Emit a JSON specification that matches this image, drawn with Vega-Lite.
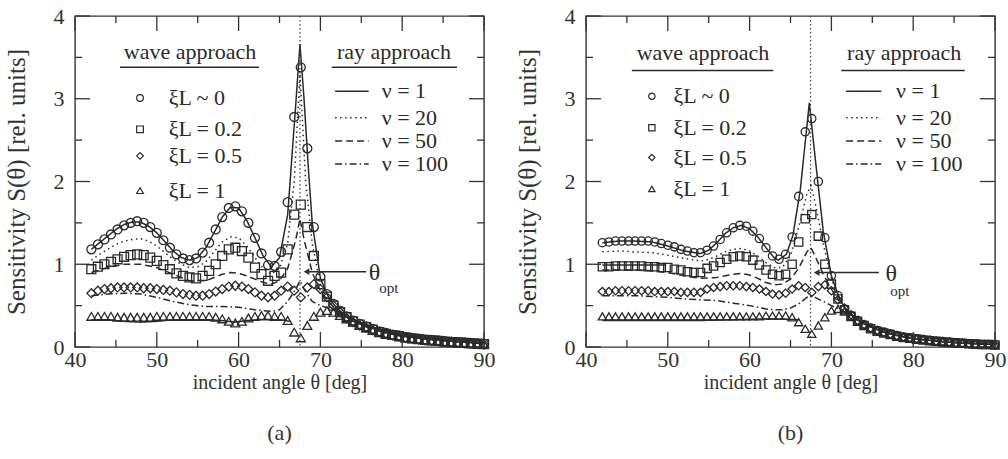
{
"$schema": "https://vega.github.io/schema/vega-lite/v6.json",
"background": "white",
"padding": {"left": 3, "top": 4, "right": 4, "bottom": 4},
"spacing": 18,
"config": {
 "font": "Liberation Serif",
 "view": {"stroke": "#333", "strokeWidth": 1.4},
 "axis": {"domain": false, "grid": false, "ticks": false, "labelFont": "Liberation Serif", "labelFontSize": 22, "labelColor": "#333", "titleFont": "Liberation Serif", "titleFontWeight": "normal", "titleColor": "#333", "labelFlush": false, "labelOverlap": false},
 "title": {"font": "Liberation Serif", "fontSize": 22, "fontWeight": "normal", "color": "#333"}
},
"datasets": {
 "pa": [
  {"k":"c","x":42,"y":1.18},{"k":"c","x":42.8,"y":1.24},{"k":"c","x":43.6,"y":1.3},{"k":"c","x":44.4,"y":1.36},{"k":"c","x":45.2,"y":1.42},{"k":"c","x":46,"y":1.47},{"k":"c","x":46.8,"y":1.5},{"k":"c","x":47.6,"y":1.52},{"k":"c","x":48.4,"y":1.5},{"k":"c","x":49.2,"y":1.45},{"k":"c","x":50,"y":1.38},{"k":"c","x":50.8,"y":1.29},{"k":"c","x":51.6,"y":1.2},{"k":"c","x":52.4,"y":1.12},{"k":"c","x":53.2,"y":1.07},{"k":"c","x":54,"y":1.05},{"k":"c","x":54.8,"y":1.07},{"k":"c","x":55.6,"y":1.14},{"k":"c","x":56.4,"y":1.26},{"k":"c","x":57.2,"y":1.42},{"k":"c","x":58,"y":1.57},{"k":"c","x":58.8,"y":1.68},{"k":"c","x":59.6,"y":1.7},{"k":"c","x":60.4,"y":1.64},{"k":"c","x":61.2,"y":1.5},{"k":"c","x":62,"y":1.32},{"k":"c","x":62.8,"y":1.13},{"k":"c","x":63.6,"y":0.99},{"k":"c","x":64.4,"y":0.98},{"k":"c","x":65.2,"y":1.15},{"k":"c","x":66,"y":1.75},{"k":"c","x":66.8,"y":2.78},{"k":"c","x":67.6,"y":3.38},{"k":"c","x":68.4,"y":2.4},{"k":"c","x":69.2,"y":1.45},{"k":"c","x":70,"y":0.85},{"k":"c","x":70.8,"y":0.64},{"k":"c","x":71.6,"y":0.52},{"k":"c","x":72.4,"y":0.44},{"k":"c","x":73.2,"y":0.37},{"k":"c","x":74,"y":0.32},{"k":"c","x":74.8,"y":0.28},{"k":"c","x":75.6,"y":0.25},{"k":"c","x":76.4,"y":0.22},{"k":"c","x":77.2,"y":0.19},{"k":"c","x":78,"y":0.17},{"k":"c","x":78.8,"y":0.15},{"k":"c","x":79.6,"y":0.14},{"k":"c","x":80.4,"y":0.12},{"k":"c","x":81.2,"y":0.11},{"k":"c","x":82,"y":0.1},{"k":"c","x":82.8,"y":0.09},{"k":"c","x":83.6,"y":0.085},{"k":"c","x":84.4,"y":0.08},{"k":"c","x":85.2,"y":0.07},{"k":"c","x":86,"y":0.065},{"k":"c","x":86.8,"y":0.06},{"k":"c","x":87.6,"y":0.055},{"k":"c","x":88.4,"y":0.05},{"k":"c","x":89.2,"y":0.045},{"k":"c","x":90,"y":0.04},
  {"k":"s","x":42,"y":0.94},{"k":"s","x":42.8,"y":0.97},{"k":"s","x":43.6,"y":1.0},{"k":"s","x":44.4,"y":1.03},{"k":"s","x":45.2,"y":1.06},{"k":"s","x":46,"y":1.09},{"k":"s","x":46.8,"y":1.11},{"k":"s","x":47.6,"y":1.12},{"k":"s","x":48.4,"y":1.11},{"k":"s","x":49.2,"y":1.08},{"k":"s","x":50,"y":1.04},{"k":"s","x":50.8,"y":0.99},{"k":"s","x":51.6,"y":0.94},{"k":"s","x":52.4,"y":0.89},{"k":"s","x":53.2,"y":0.86},{"k":"s","x":54,"y":0.84},{"k":"s","x":54.8,"y":0.83},{"k":"s","x":55.6,"y":0.86},{"k":"s","x":56.4,"y":0.92},{"k":"s","x":57.2,"y":1.0},{"k":"s","x":58,"y":1.1},{"k":"s","x":58.8,"y":1.18},{"k":"s","x":59.6,"y":1.2},{"k":"s","x":60.4,"y":1.16},{"k":"s","x":61.2,"y":1.08},{"k":"s","x":62,"y":0.96},{"k":"s","x":62.8,"y":0.88},{"k":"s","x":63.6,"y":0.8},{"k":"s","x":64.4,"y":0.86},{"k":"s","x":65.2,"y":0.9},{"k":"s","x":66,"y":1.18},{"k":"s","x":66.8,"y":1.6},{"k":"s","x":67.6,"y":1.72},{"k":"s","x":68.4,"y":1.45},{"k":"s","x":69.2,"y":1.1},{"k":"s","x":70,"y":0.76},{"k":"s","x":70.8,"y":0.61},{"k":"s","x":71.6,"y":0.5},{"k":"s","x":72.4,"y":0.42},{"k":"s","x":73.2,"y":0.36},{"k":"s","x":74,"y":0.31},{"k":"s","x":74.8,"y":0.27},{"k":"s","x":75.6,"y":0.24},{"k":"s","x":76.4,"y":0.21},{"k":"s","x":77.2,"y":0.18},{"k":"s","x":78,"y":0.16},{"k":"s","x":78.8,"y":0.145},{"k":"s","x":79.6,"y":0.13},{"k":"s","x":80.4,"y":0.115},{"k":"s","x":81.2,"y":0.105},{"k":"s","x":82,"y":0.095},{"k":"s","x":82.8,"y":0.085},{"k":"s","x":83.6,"y":0.08},{"k":"s","x":84.4,"y":0.075},{"k":"s","x":85.2,"y":0.065},{"k":"s","x":86,"y":0.06},{"k":"s","x":86.8,"y":0.055},{"k":"s","x":87.6,"y":0.05},{"k":"s","x":88.4,"y":0.045},{"k":"s","x":89.2,"y":0.04},{"k":"s","x":90,"y":0.035},
  {"k":"d","x":42,"y":0.65},{"k":"d","x":42.8,"y":0.68},{"k":"d","x":43.6,"y":0.7},{"k":"d","x":44.4,"y":0.71},{"k":"d","x":45.2,"y":0.72},{"k":"d","x":46,"y":0.72},{"k":"d","x":46.8,"y":0.72},{"k":"d","x":47.6,"y":0.72},{"k":"d","x":48.4,"y":0.71},{"k":"d","x":49.2,"y":0.71},{"k":"d","x":50,"y":0.7},{"k":"d","x":50.8,"y":0.69},{"k":"d","x":51.6,"y":0.68},{"k":"d","x":52.4,"y":0.66},{"k":"d","x":53.2,"y":0.64},{"k":"d","x":54,"y":0.63},{"k":"d","x":54.8,"y":0.62},{"k":"d","x":55.6,"y":0.62},{"k":"d","x":56.4,"y":0.64},{"k":"d","x":57.2,"y":0.67},{"k":"d","x":58,"y":0.7},{"k":"d","x":58.8,"y":0.73},{"k":"d","x":59.6,"y":0.74},{"k":"d","x":60.4,"y":0.73},{"k":"d","x":61.2,"y":0.7},{"k":"d","x":62,"y":0.66},{"k":"d","x":62.8,"y":0.62},{"k":"d","x":63.6,"y":0.6},{"k":"d","x":64.4,"y":0.62},{"k":"d","x":65.2,"y":0.68},{"k":"d","x":66,"y":0.73},{"k":"d","x":66.8,"y":0.68},{"k":"d","x":67.6,"y":0.6},{"k":"d","x":68.4,"y":0.72},{"k":"d","x":69.2,"y":0.76},{"k":"d","x":70,"y":0.7},{"k":"d","x":70.8,"y":0.6},{"k":"d","x":71.6,"y":0.5},{"k":"d","x":72.4,"y":0.42},{"k":"d","x":73.2,"y":0.35},{"k":"d","x":74,"y":0.3},{"k":"d","x":74.8,"y":0.26},{"k":"d","x":75.6,"y":0.23},{"k":"d","x":76.4,"y":0.2},{"k":"d","x":77.2,"y":0.18},{"k":"d","x":78,"y":0.16},{"k":"d","x":78.8,"y":0.14},{"k":"d","x":79.6,"y":0.125},{"k":"d","x":80.4,"y":0.11},{"k":"d","x":81.2,"y":0.1},{"k":"d","x":82,"y":0.09},{"k":"d","x":82.8,"y":0.08},{"k":"d","x":83.6,"y":0.075},{"k":"d","x":84.4,"y":0.07},{"k":"d","x":85.2,"y":0.06},{"k":"d","x":86,"y":0.055},{"k":"d","x":86.8,"y":0.05},{"k":"d","x":87.6,"y":0.045},{"k":"d","x":88.4,"y":0.04},{"k":"d","x":89.2,"y":0.035},{"k":"d","x":90,"y":0.03},
  {"k":"t","x":42,"y":0.37},{"k":"t","x":42.8,"y":0.37},{"k":"t","x":43.6,"y":0.37},{"k":"t","x":44.4,"y":0.37},{"k":"t","x":45.2,"y":0.36},{"k":"t","x":46,"y":0.36},{"k":"t","x":46.8,"y":0.36},{"k":"t","x":47.6,"y":0.36},{"k":"t","x":48.4,"y":0.36},{"k":"t","x":49.2,"y":0.36},{"k":"t","x":50,"y":0.37},{"k":"t","x":50.8,"y":0.37},{"k":"t","x":51.6,"y":0.37},{"k":"t","x":52.4,"y":0.37},{"k":"t","x":53.2,"y":0.37},{"k":"t","x":54,"y":0.37},{"k":"t","x":54.8,"y":0.37},{"k":"t","x":55.6,"y":0.37},{"k":"t","x":56.4,"y":0.37},{"k":"t","x":57.2,"y":0.36},{"k":"t","x":58,"y":0.34},{"k":"t","x":58.8,"y":0.31},{"k":"t","x":59.6,"y":0.29},{"k":"t","x":60.4,"y":0.31},{"k":"t","x":61.2,"y":0.35},{"k":"t","x":62,"y":0.37},{"k":"t","x":62.8,"y":0.38},{"k":"t","x":63.6,"y":0.38},{"k":"t","x":64.4,"y":0.37},{"k":"t","x":65.2,"y":0.37},{"k":"t","x":66,"y":0.32},{"k":"t","x":66.8,"y":0.18},{"k":"t","x":67.6,"y":0.11},{"k":"t","x":68.4,"y":0.26},{"k":"t","x":69.2,"y":0.37},{"k":"t","x":70,"y":0.42},{"k":"t","x":70.8,"y":0.44},{"k":"t","x":71.6,"y":0.42},{"k":"t","x":72.4,"y":0.38},{"k":"t","x":73.2,"y":0.34},{"k":"t","x":74,"y":0.3},{"k":"t","x":74.8,"y":0.26},{"k":"t","x":75.6,"y":0.23},{"k":"t","x":76.4,"y":0.2},{"k":"t","x":77.2,"y":0.18},{"k":"t","x":78,"y":0.16},{"k":"t","x":78.8,"y":0.14},{"k":"t","x":79.6,"y":0.125},{"k":"t","x":80.4,"y":0.11},{"k":"t","x":81.2,"y":0.1},{"k":"t","x":82,"y":0.09},{"k":"t","x":82.8,"y":0.08},{"k":"t","x":83.6,"y":0.075},{"k":"t","x":84.4,"y":0.07},{"k":"t","x":85.2,"y":0.06},{"k":"t","x":86,"y":0.055},{"k":"t","x":86.8,"y":0.05},{"k":"t","x":87.6,"y":0.045},{"k":"t","x":88.4,"y":0.04},{"k":"t","x":89.2,"y":0.035},{"k":"t","x":90,"y":0.03}
 ],
 "pb": [
  {"k":"c","x":42,"y":1.26},{"k":"c","x":42.8,"y":1.27},{"k":"c","x":43.6,"y":1.28},{"k":"c","x":44.4,"y":1.28},{"k":"c","x":45.2,"y":1.28},{"k":"c","x":46,"y":1.28},{"k":"c","x":46.8,"y":1.28},{"k":"c","x":47.6,"y":1.28},{"k":"c","x":48.4,"y":1.27},{"k":"c","x":49.2,"y":1.25},{"k":"c","x":50,"y":1.23},{"k":"c","x":50.8,"y":1.21},{"k":"c","x":51.6,"y":1.18},{"k":"c","x":52.4,"y":1.16},{"k":"c","x":53.2,"y":1.14},{"k":"c","x":54,"y":1.14},{"k":"c","x":54.8,"y":1.17},{"k":"c","x":55.6,"y":1.22},{"k":"c","x":56.4,"y":1.3},{"k":"c","x":57.2,"y":1.38},{"k":"c","x":58,"y":1.44},{"k":"c","x":58.8,"y":1.47},{"k":"c","x":59.6,"y":1.46},{"k":"c","x":60.4,"y":1.4},{"k":"c","x":61.2,"y":1.31},{"k":"c","x":62,"y":1.2},{"k":"c","x":62.8,"y":1.1},{"k":"c","x":63.6,"y":1.06},{"k":"c","x":64.4,"y":1.12},{"k":"c","x":65.2,"y":1.33},{"k":"c","x":66,"y":1.82},{"k":"c","x":66.8,"y":2.6},{"k":"c","x":67.6,"y":2.76},{"k":"c","x":68.4,"y":2.0},{"k":"c","x":69.2,"y":1.32},{"k":"c","x":70,"y":0.86},{"k":"c","x":70.8,"y":0.62},{"k":"c","x":71.6,"y":0.46},{"k":"c","x":72.4,"y":0.38},{"k":"c","x":73.2,"y":0.32},{"k":"c","x":74,"y":0.27},{"k":"c","x":74.8,"y":0.23},{"k":"c","x":75.6,"y":0.2},{"k":"c","x":76.4,"y":0.18},{"k":"c","x":77.2,"y":0.16},{"k":"c","x":78,"y":0.14},{"k":"c","x":78.8,"y":0.12},{"k":"c","x":79.6,"y":0.11},{"k":"c","x":80.4,"y":0.1},{"k":"c","x":81.2,"y":0.09},{"k":"c","x":82,"y":0.08},{"k":"c","x":82.8,"y":0.07},{"k":"c","x":83.6,"y":0.065},{"k":"c","x":84.4,"y":0.06},{"k":"c","x":85.2,"y":0.05},{"k":"c","x":86,"y":0.045},{"k":"c","x":86.8,"y":0.04},{"k":"c","x":87.6,"y":0.035},{"k":"c","x":88.4,"y":0.03},{"k":"c","x":89.2,"y":0.03},{"k":"c","x":90,"y":0.03},
  {"k":"s","x":42,"y":0.97},{"k":"s","x":42.8,"y":0.97},{"k":"s","x":43.6,"y":0.98},{"k":"s","x":44.4,"y":0.98},{"k":"s","x":45.2,"y":0.98},{"k":"s","x":46,"y":0.98},{"k":"s","x":46.8,"y":0.98},{"k":"s","x":47.6,"y":0.97},{"k":"s","x":48.4,"y":0.97},{"k":"s","x":49.2,"y":0.96},{"k":"s","x":50,"y":0.96},{"k":"s","x":50.8,"y":0.94},{"k":"s","x":51.6,"y":0.93},{"k":"s","x":52.4,"y":0.91},{"k":"s","x":53.2,"y":0.9},{"k":"s","x":54,"y":0.9},{"k":"s","x":54.8,"y":0.95},{"k":"s","x":55.6,"y":0.98},{"k":"s","x":56.4,"y":1.02},{"k":"s","x":57.2,"y":1.06},{"k":"s","x":58,"y":1.09},{"k":"s","x":58.8,"y":1.1},{"k":"s","x":59.6,"y":1.09},{"k":"s","x":60.4,"y":1.05},{"k":"s","x":61.2,"y":0.99},{"k":"s","x":62,"y":0.93},{"k":"s","x":62.8,"y":0.88},{"k":"s","x":63.6,"y":0.86},{"k":"s","x":64.4,"y":0.88},{"k":"s","x":65.2,"y":1.0},{"k":"s","x":66,"y":1.27},{"k":"s","x":66.8,"y":1.55},{"k":"s","x":67.6,"y":1.6},{"k":"s","x":68.4,"y":1.34},{"k":"s","x":69.2,"y":1.0},{"k":"s","x":70,"y":0.76},{"k":"s","x":70.8,"y":0.58},{"k":"s","x":71.6,"y":0.45},{"k":"s","x":72.4,"y":0.37},{"k":"s","x":73.2,"y":0.31},{"k":"s","x":74,"y":0.26},{"k":"s","x":74.8,"y":0.22},{"k":"s","x":75.6,"y":0.19},{"k":"s","x":76.4,"y":0.17},{"k":"s","x":77.2,"y":0.15},{"k":"s","x":78,"y":0.13},{"k":"s","x":78.8,"y":0.115},{"k":"s","x":79.6,"y":0.105},{"k":"s","x":80.4,"y":0.095},{"k":"s","x":81.2,"y":0.085},{"k":"s","x":82,"y":0.075},{"k":"s","x":82.8,"y":0.07},{"k":"s","x":83.6,"y":0.06},{"k":"s","x":84.4,"y":0.055},{"k":"s","x":85.2,"y":0.05},{"k":"s","x":86,"y":0.045},{"k":"s","x":86.8,"y":0.04},{"k":"s","x":87.6,"y":0.035},{"k":"s","x":88.4,"y":0.03},{"k":"s","x":89.2,"y":0.03},{"k":"s","x":90,"y":0.025},
  {"k":"d","x":42,"y":0.67},{"k":"d","x":42.8,"y":0.67},{"k":"d","x":43.6,"y":0.68},{"k":"d","x":44.4,"y":0.68},{"k":"d","x":45.2,"y":0.68},{"k":"d","x":46,"y":0.68},{"k":"d","x":46.8,"y":0.68},{"k":"d","x":47.6,"y":0.68},{"k":"d","x":48.4,"y":0.67},{"k":"d","x":49.2,"y":0.67},{"k":"d","x":50,"y":0.67},{"k":"d","x":50.8,"y":0.67},{"k":"d","x":51.6,"y":0.66},{"k":"d","x":52.4,"y":0.66},{"k":"d","x":53.2,"y":0.66},{"k":"d","x":54,"y":0.66},{"k":"d","x":54.8,"y":0.7},{"k":"d","x":55.6,"y":0.72},{"k":"d","x":56.4,"y":0.73},{"k":"d","x":57.2,"y":0.74},{"k":"d","x":58,"y":0.74},{"k":"d","x":58.8,"y":0.74},{"k":"d","x":59.6,"y":0.73},{"k":"d","x":60.4,"y":0.72},{"k":"d","x":61.2,"y":0.7},{"k":"d","x":62,"y":0.67},{"k":"d","x":62.8,"y":0.64},{"k":"d","x":63.6,"y":0.63},{"k":"d","x":64.4,"y":0.65},{"k":"d","x":65.2,"y":0.7},{"k":"d","x":66,"y":0.74},{"k":"d","x":66.8,"y":0.72},{"k":"d","x":67.6,"y":0.66},{"k":"d","x":68.4,"y":0.73},{"k":"d","x":69.2,"y":0.75},{"k":"d","x":70,"y":0.68},{"k":"d","x":70.8,"y":0.57},{"k":"d","x":71.6,"y":0.47},{"k":"d","x":72.4,"y":0.39},{"k":"d","x":73.2,"y":0.32},{"k":"d","x":74,"y":0.27},{"k":"d","x":74.8,"y":0.23},{"k":"d","x":75.6,"y":0.2},{"k":"d","x":76.4,"y":0.175},{"k":"d","x":77.2,"y":0.155},{"k":"d","x":78,"y":0.135},{"k":"d","x":78.8,"y":0.12},{"k":"d","x":79.6,"y":0.11},{"k":"d","x":80.4,"y":0.1},{"k":"d","x":81.2,"y":0.09},{"k":"d","x":82,"y":0.08},{"k":"d","x":82.8,"y":0.07},{"k":"d","x":83.6,"y":0.065},{"k":"d","x":84.4,"y":0.06},{"k":"d","x":85.2,"y":0.05},{"k":"d","x":86,"y":0.045},{"k":"d","x":86.8,"y":0.04},{"k":"d","x":87.6,"y":0.035},{"k":"d","x":88.4,"y":0.03},{"k":"d","x":89.2,"y":0.03},{"k":"d","x":90,"y":0.025},
  {"k":"t","x":42,"y":0.37},{"k":"t","x":42.8,"y":0.37},{"k":"t","x":43.6,"y":0.37},{"k":"t","x":44.4,"y":0.37},{"k":"t","x":45.2,"y":0.37},{"k":"t","x":46,"y":0.37},{"k":"t","x":46.8,"y":0.37},{"k":"t","x":47.6,"y":0.37},{"k":"t","x":48.4,"y":0.37},{"k":"t","x":49.2,"y":0.37},{"k":"t","x":50,"y":0.37},{"k":"t","x":50.8,"y":0.37},{"k":"t","x":51.6,"y":0.37},{"k":"t","x":52.4,"y":0.37},{"k":"t","x":53.2,"y":0.37},{"k":"t","x":54,"y":0.37},{"k":"t","x":54.8,"y":0.37},{"k":"t","x":55.6,"y":0.37},{"k":"t","x":56.4,"y":0.37},{"k":"t","x":57.2,"y":0.37},{"k":"t","x":58,"y":0.37},{"k":"t","x":58.8,"y":0.37},{"k":"t","x":59.6,"y":0.37},{"k":"t","x":60.4,"y":0.37},{"k":"t","x":61.2,"y":0.37},{"k":"t","x":62,"y":0.38},{"k":"t","x":62.8,"y":0.38},{"k":"t","x":63.6,"y":0.38},{"k":"t","x":64.4,"y":0.38},{"k":"t","x":65.2,"y":0.36},{"k":"t","x":66,"y":0.3},{"k":"t","x":66.8,"y":0.22},{"k":"t","x":67.6,"y":0.16},{"k":"t","x":68.4,"y":0.26},{"k":"t","x":69.2,"y":0.36},{"k":"t","x":70,"y":0.44},{"k":"t","x":70.8,"y":0.46},{"k":"t","x":71.6,"y":0.43},{"k":"t","x":72.4,"y":0.37},{"k":"t","x":73.2,"y":0.31},{"k":"t","x":74,"y":0.27},{"k":"t","x":74.8,"y":0.23},{"k":"t","x":75.6,"y":0.2},{"k":"t","x":76.4,"y":0.175},{"k":"t","x":77.2,"y":0.155},{"k":"t","x":78,"y":0.135},{"k":"t","x":78.8,"y":0.12},{"k":"t","x":79.6,"y":0.11},{"k":"t","x":80.4,"y":0.1},{"k":"t","x":81.2,"y":0.09},{"k":"t","x":82,"y":0.08},{"k":"t","x":82.8,"y":0.07},{"k":"t","x":83.6,"y":0.065},{"k":"t","x":84.4,"y":0.06},{"k":"t","x":85.2,"y":0.05},{"k":"t","x":86,"y":0.045},{"k":"t","x":86.8,"y":0.04},{"k":"t","x":87.6,"y":0.035},{"k":"t","x":88.4,"y":0.03},{"k":"t","x":89.2,"y":0.03},{"k":"t","x":90,"y":0.025}
 ],
 "la": [
  {"g":"a1","s":"solid","x":42,"y":1.18},{"g":"a1","s":"solid","x":43,"y":1.26},{"g":"a1","s":"solid","x":44,"y":1.34},{"g":"a1","s":"solid","x":45,"y":1.42},{"g":"a1","s":"solid","x":46,"y":1.48},{"g":"a1","s":"solid","x":47,"y":1.51},{"g":"a1","s":"solid","x":48,"y":1.51},{"g":"a1","s":"solid","x":49,"y":1.46},{"g":"a1","s":"solid","x":50,"y":1.38},{"g":"a1","s":"solid","x":51,"y":1.27},{"g":"a1","s":"solid","x":52,"y":1.16},{"g":"a1","s":"solid","x":53,"y":1.08},{"g":"a1","s":"solid","x":54,"y":1.05},{"g":"a1","s":"solid","x":55,"y":1.08},{"g":"a1","s":"solid","x":56,"y":1.2},{"g":"a1","s":"solid","x":57,"y":1.38},{"g":"a1","s":"solid","x":58,"y":1.57},{"g":"a1","s":"solid","x":59,"y":1.69},{"g":"a1","s":"solid","x":60,"y":1.68},{"g":"a1","s":"solid","x":61,"y":1.53},{"g":"a1","s":"solid","x":62,"y":1.32},{"g":"a1","s":"solid","x":63,"y":1.1},{"g":"a1","s":"solid","x":64,"y":0.97},{"g":"a1","s":"solid","x":65,"y":1.08},{"g":"a1","s":"solid","x":66,"y":1.6},{"g":"a1","s":"solid","x":67,"y":2.95},{"g":"a1","s":"solid","x":67.5,"y":3.66},{"g":"a1","s":"solid","x":68,"y":3.0},{"g":"a1","s":"solid","x":68.5,"y":2.2},{"g":"a1","s":"solid","x":69,"y":1.5},{"g":"a1","s":"solid","x":70,"y":0.83},{"g":"a1","s":"solid","x":71,"y":0.6},{"g":"a1","s":"solid","x":72,"y":0.47},{"g":"a1","s":"solid","x":73,"y":0.39},{"g":"a1","s":"solid","x":74,"y":0.33},{"g":"a1","s":"solid","x":76,"y":0.24},{"g":"a1","s":"solid","x":78,"y":0.18},{"g":"a1","s":"solid","x":80,"y":0.14},{"g":"a1","s":"solid","x":82,"y":0.11},{"g":"a1","s":"solid","x":84,"y":0.09},{"g":"a1","s":"solid","x":86,"y":0.07},{"g":"a1","s":"solid","x":88,"y":0.055},{"g":"a1","s":"solid","x":90,"y":0.045},
  {"g":"a1b","s":"solid","x":42,"y":0.33},{"g":"a1b","s":"solid","x":44,"y":0.33},{"g":"a1b","s":"solid","x":46,"y":0.31},{"g":"a1b","s":"solid","x":48,"y":0.3},{"g":"a1b","s":"solid","x":50,"y":0.31},{"g":"a1b","s":"solid","x":52,"y":0.33},{"g":"a1b","s":"solid","x":54,"y":0.33},{"g":"a1b","s":"solid","x":56,"y":0.33},{"g":"a1b","s":"solid","x":58,"y":0.32},{"g":"a1b","s":"solid","x":59.5,"y":0.3},{"g":"a1b","s":"solid","x":61,"y":0.32},{"g":"a1b","s":"solid","x":63,"y":0.33},{"g":"a1b","s":"solid","x":65,"y":0.33},{"g":"a1b","s":"solid","x":66.3,"y":0.31},
  {"g":"a20","s":"dotted","x":42,"y":1.05},{"g":"a20","s":"dotted","x":43,"y":1.12},{"g":"a20","s":"dotted","x":44,"y":1.18},{"g":"a20","s":"dotted","x":45,"y":1.24},{"g":"a20","s":"dotted","x":46,"y":1.28},{"g":"a20","s":"dotted","x":47,"y":1.3},{"g":"a20","s":"dotted","x":48,"y":1.31},{"g":"a20","s":"dotted","x":49,"y":1.28},{"g":"a20","s":"dotted","x":50,"y":1.22},{"g":"a20","s":"dotted","x":51,"y":1.14},{"g":"a20","s":"dotted","x":52,"y":1.06},{"g":"a20","s":"dotted","x":53,"y":1.0},{"g":"a20","s":"dotted","x":54,"y":0.96},{"g":"a20","s":"dotted","x":55,"y":0.97},{"g":"a20","s":"dotted","x":56,"y":1.03},{"g":"a20","s":"dotted","x":57,"y":1.15},{"g":"a20","s":"dotted","x":58,"y":1.27},{"g":"a20","s":"dotted","x":59,"y":1.33},{"g":"a20","s":"dotted","x":60,"y":1.32},{"g":"a20","s":"dotted","x":61,"y":1.22},{"g":"a20","s":"dotted","x":62,"y":1.08},{"g":"a20","s":"dotted","x":63,"y":0.95},{"g":"a20","s":"dotted","x":64,"y":0.88},{"g":"a20","s":"dotted","x":65,"y":0.95},{"g":"a20","s":"dotted","x":66,"y":1.25},{"g":"a20","s":"dotted","x":66.8,"y":2.0},{"g":"a20","s":"dotted","x":67.5,"y":3.3},{"g":"a20","s":"dotted","x":68.2,"y":2.0},{"g":"a20","s":"dotted","x":69,"y":1.25},{"g":"a20","s":"dotted","x":70,"y":0.75},{"g":"a20","s":"dotted","x":71,"y":0.55},{"g":"a20","s":"dotted","x":72,"y":0.44},{"g":"a20","s":"dotted","x":74,"y":0.31},{"g":"a20","s":"dotted","x":76,"y":0.23},{"g":"a20","s":"dotted","x":78,"y":0.17},{"g":"a20","s":"dotted","x":80,"y":0.13},{"g":"a20","s":"dotted","x":84,"y":0.085},{"g":"a20","s":"dotted","x":90,"y":0.04},
  {"g":"a50","s":"dashed","x":42,"y":0.9},{"g":"a50","s":"dashed","x":44,"y":0.96},{"g":"a50","s":"dashed","x":46,"y":1.0},{"g":"a50","s":"dashed","x":48,"y":1.0},{"g":"a50","s":"dashed","x":50,"y":0.96},{"g":"a50","s":"dashed","x":52,"y":0.88},{"g":"a50","s":"dashed","x":54,"y":0.8},{"g":"a50","s":"dashed","x":56,"y":0.8},{"g":"a50","s":"dashed","x":57,"y":0.84},{"g":"a50","s":"dashed","x":58,"y":0.88},{"g":"a50","s":"dashed","x":59,"y":0.9},{"g":"a50","s":"dashed","x":60,"y":0.89},{"g":"a50","s":"dashed","x":61,"y":0.86},{"g":"a50","s":"dashed","x":62,"y":0.82},{"g":"a50","s":"dashed","x":63,"y":0.78},{"g":"a50","s":"dashed","x":64,"y":0.76},{"g":"a50","s":"dashed","x":65,"y":0.8},{"g":"a50","s":"dashed","x":66,"y":0.95},{"g":"a50","s":"dashed","x":67,"y":1.3},{"g":"a50","s":"dashed","x":67.5,"y":1.55},{"g":"a50","s":"dashed","x":68,"y":1.3},{"g":"a50","s":"dashed","x":69,"y":0.9},{"g":"a50","s":"dashed","x":70,"y":0.68},{"g":"a50","s":"dashed","x":71,"y":0.55},{"g":"a50","s":"dashed","x":72,"y":0.44},{"g":"a50","s":"dashed","x":74,"y":0.31},{"g":"a50","s":"dashed","x":76,"y":0.23},{"g":"a50","s":"dashed","x":78,"y":0.17},{"g":"a50","s":"dashed","x":80,"y":0.13},{"g":"a50","s":"dashed","x":84,"y":0.085},{"g":"a50","s":"dashed","x":90,"y":0.04},
  {"g":"a100","s":"dashdot","x":42,"y":0.62},{"g":"a100","s":"dashdot","x":44,"y":0.64},{"g":"a100","s":"dashdot","x":46,"y":0.65},{"g":"a100","s":"dashdot","x":48,"y":0.64},{"g":"a100","s":"dashdot","x":50,"y":0.6},{"g":"a100","s":"dashdot","x":52,"y":0.55},{"g":"a100","s":"dashdot","x":54,"y":0.51},{"g":"a100","s":"dashdot","x":56,"y":0.49},{"g":"a100","s":"dashdot","x":58,"y":0.49},{"g":"a100","s":"dashdot","x":60,"y":0.48},{"g":"a100","s":"dashdot","x":62,"y":0.45},{"g":"a100","s":"dashdot","x":64,"y":0.43},{"g":"a100","s":"dashdot","x":65,"y":0.45},{"g":"a100","s":"dashdot","x":66,"y":0.55},{"g":"a100","s":"dashdot","x":67,"y":0.7},{"g":"a100","s":"dashdot","x":67.5,"y":0.8},{"g":"a100","s":"dashdot","x":68,"y":0.7},{"g":"a100","s":"dashdot","x":69,"y":0.55},{"g":"a100","s":"dashdot","x":70,"y":0.5},{"g":"a100","s":"dashdot","x":71,"y":0.47},{"g":"a100","s":"dashdot","x":72,"y":0.42},{"g":"a100","s":"dashdot","x":74,"y":0.31},{"g":"a100","s":"dashdot","x":76,"y":0.23},{"g":"a100","s":"dashdot","x":78,"y":0.17},{"g":"a100","s":"dashdot","x":80,"y":0.13},{"g":"a100","s":"dashdot","x":84,"y":0.085},{"g":"a100","s":"dashdot","x":90,"y":0.04}
 ],
 "lb": [
  {"g":"b1","s":"solid","x":42,"y":1.26},{"g":"b1","s":"solid","x":44,"y":1.28},{"g":"b1","s":"solid","x":46,"y":1.28},{"g":"b1","s":"solid","x":48,"y":1.27},{"g":"b1","s":"solid","x":50,"y":1.22},{"g":"b1","s":"solid","x":52,"y":1.16},{"g":"b1","s":"solid","x":54,"y":1.13},{"g":"b1","s":"solid","x":55,"y":1.17},{"g":"b1","s":"solid","x":56,"y":1.26},{"g":"b1","s":"solid","x":57,"y":1.37},{"g":"b1","s":"solid","x":58,"y":1.44},{"g":"b1","s":"solid","x":59,"y":1.47},{"g":"b1","s":"solid","x":60,"y":1.43},{"g":"b1","s":"solid","x":61,"y":1.33},{"g":"b1","s":"solid","x":62,"y":1.2},{"g":"b1","s":"solid","x":63,"y":1.08},{"g":"b1","s":"solid","x":63.5,"y":1.05},{"g":"b1","s":"solid","x":64.5,"y":1.12},{"g":"b1","s":"solid","x":65.3,"y":1.35},{"g":"b1","s":"solid","x":66.2,"y":1.9},{"g":"b1","s":"solid","x":67.3,"y":2.95},{"g":"b1","s":"solid","x":68,"y":2.3},{"g":"b1","s":"solid","x":69,"y":1.4},{"g":"b1","s":"solid","x":70,"y":0.86},{"g":"b1","s":"solid","x":71,"y":0.58},{"g":"b1","s":"solid","x":72,"y":0.42},{"g":"b1","s":"solid","x":73,"y":0.34},{"g":"b1","s":"solid","x":74,"y":0.28},{"g":"b1","s":"solid","x":76,"y":0.19},{"g":"b1","s":"solid","x":78,"y":0.14},{"g":"b1","s":"solid","x":80,"y":0.1},{"g":"b1","s":"solid","x":82,"y":0.08},{"g":"b1","s":"solid","x":84,"y":0.06},{"g":"b1","s":"solid","x":86,"y":0.045},{"g":"b1","s":"solid","x":88,"y":0.035},{"g":"b1","s":"solid","x":90,"y":0.03},
  {"g":"b1b","s":"solid","x":42,"y":0.99},{"g":"b1b","s":"solid","x":49.8,"y":0.99},
  {"g":"b1c","s":"solid","x":42,"y":0.32},{"g":"b1c","s":"solid","x":46,"y":0.32},{"g":"b1c","s":"solid","x":50,"y":0.32},{"g":"b1c","s":"solid","x":54,"y":0.32},{"g":"b1c","s":"solid","x":58,"y":0.33},{"g":"b1c","s":"solid","x":62,"y":0.34},{"g":"b1c","s":"solid","x":66,"y":0.33},
  {"g":"b20","s":"dotted","x":42,"y":1.15},{"g":"b20","s":"dotted","x":44,"y":1.16},{"g":"b20","s":"dotted","x":46,"y":1.15},{"g":"b20","s":"dotted","x":48,"y":1.14},{"g":"b20","s":"dotted","x":50,"y":1.11},{"g":"b20","s":"dotted","x":52,"y":1.07},{"g":"b20","s":"dotted","x":54,"y":1.04},{"g":"b20","s":"dotted","x":55,"y":1.06},{"g":"b20","s":"dotted","x":56,"y":1.1},{"g":"b20","s":"dotted","x":57,"y":1.15},{"g":"b20","s":"dotted","x":58,"y":1.18},{"g":"b20","s":"dotted","x":59,"y":1.19},{"g":"b20","s":"dotted","x":60,"y":1.16},{"g":"b20","s":"dotted","x":61,"y":1.1},{"g":"b20","s":"dotted","x":62,"y":1.02},{"g":"b20","s":"dotted","x":63,"y":0.96},{"g":"b20","s":"dotted","x":64,"y":0.96},{"g":"b20","s":"dotted","x":65,"y":1.1},{"g":"b20","s":"dotted","x":66,"y":1.45},{"g":"b20","s":"dotted","x":67,"y":1.85},{"g":"b20","s":"dotted","x":67.5,"y":1.95},{"g":"b20","s":"dotted","x":68,"y":1.75},{"g":"b20","s":"dotted","x":69,"y":1.25},{"g":"b20","s":"dotted","x":70,"y":0.82},{"g":"b20","s":"dotted","x":71,"y":0.58},{"g":"b20","s":"dotted","x":72,"y":0.43},{"g":"b20","s":"dotted","x":74,"y":0.28},{"g":"b20","s":"dotted","x":76,"y":0.19},{"g":"b20","s":"dotted","x":78,"y":0.14},{"g":"b20","s":"dotted","x":80,"y":0.1},{"g":"b20","s":"dotted","x":84,"y":0.06},{"g":"b20","s":"dotted","x":90,"y":0.03},
  {"g":"b50","s":"dashed","x":42,"y":0.93},{"g":"b50","s":"dashed","x":44,"y":0.93},{"g":"b50","s":"dashed","x":46,"y":0.93},{"g":"b50","s":"dashed","x":48,"y":0.92},{"g":"b50","s":"dashed","x":50,"y":0.9},{"g":"b50","s":"dashed","x":52,"y":0.86},{"g":"b50","s":"dashed","x":54,"y":0.83},{"g":"b50","s":"dashed","x":56,"y":0.84},{"g":"b50","s":"dashed","x":58,"y":0.88},{"g":"b50","s":"dashed","x":59,"y":0.89},{"g":"b50","s":"dashed","x":60,"y":0.87},{"g":"b50","s":"dashed","x":61,"y":0.83},{"g":"b50","s":"dashed","x":62,"y":0.78},{"g":"b50","s":"dashed","x":63,"y":0.75},{"g":"b50","s":"dashed","x":64,"y":0.76},{"g":"b50","s":"dashed","x":65,"y":0.82},{"g":"b50","s":"dashed","x":66,"y":0.95},{"g":"b50","s":"dashed","x":67,"y":1.15},{"g":"b50","s":"dashed","x":67.5,"y":1.2},{"g":"b50","s":"dashed","x":68,"y":1.1},{"g":"b50","s":"dashed","x":69,"y":0.88},{"g":"b50","s":"dashed","x":70,"y":0.7},{"g":"b50","s":"dashed","x":71,"y":0.55},{"g":"b50","s":"dashed","x":72,"y":0.43},{"g":"b50","s":"dashed","x":74,"y":0.28},{"g":"b50","s":"dashed","x":76,"y":0.19},{"g":"b50","s":"dashed","x":78,"y":0.14},{"g":"b50","s":"dashed","x":80,"y":0.1},{"g":"b50","s":"dashed","x":84,"y":0.06},{"g":"b50","s":"dashed","x":90,"y":0.03},
  {"g":"b100","s":"dashdot","x":42,"y":0.62},{"g":"b100","s":"dashdot","x":44,"y":0.62},{"g":"b100","s":"dashdot","x":46,"y":0.62},{"g":"b100","s":"dashdot","x":48,"y":0.61},{"g":"b100","s":"dashdot","x":50,"y":0.6},{"g":"b100","s":"dashdot","x":52,"y":0.58},{"g":"b100","s":"dashdot","x":54,"y":0.57},{"g":"b100","s":"dashdot","x":56,"y":0.56},{"g":"b100","s":"dashdot","x":58,"y":0.53},{"g":"b100","s":"dashdot","x":60,"y":0.5},{"g":"b100","s":"dashdot","x":62,"y":0.46},{"g":"b100","s":"dashdot","x":63,"y":0.45},{"g":"b100","s":"dashdot","x":64,"y":0.45},{"g":"b100","s":"dashdot","x":65,"y":0.47},{"g":"b100","s":"dashdot","x":66,"y":0.52},{"g":"b100","s":"dashdot","x":67,"y":0.6},{"g":"b100","s":"dashdot","x":67.5,"y":0.62},{"g":"b100","s":"dashdot","x":68,"y":0.6},{"g":"b100","s":"dashdot","x":69,"y":0.55},{"g":"b100","s":"dashdot","x":70,"y":0.5},{"g":"b100","s":"dashdot","x":71,"y":0.46},{"g":"b100","s":"dashdot","x":72,"y":0.4},{"g":"b100","s":"dashdot","x":74,"y":0.28},{"g":"b100","s":"dashdot","x":76,"y":0.19},{"g":"b100","s":"dashdot","x":78,"y":0.14},{"g":"b100","s":"dashdot","x":80,"y":0.1},{"g":"b100","s":"dashdot","x":84,"y":0.06},{"g":"b100","s":"dashdot","x":90,"y":0.03}
 ],
 "ma": [{"k":"c","x":47.95,"y":3.01},{"k":"s","x":47.95,"y":2.63},{"k":"d","x":47.95,"y":2.31},{"k":"t","x":47.95,"y":1.89}],
 "mb": [{"k":"c","x":48.05,"y":3.03},{"k":"s","x":48.05,"y":2.65},{"k":"d","x":48.05,"y":2.29},{"k":"t","x":48.05,"y":1.91}],
 "ra": [{"x":71.8,"x2":75.9,"y":3.09,"s":"solid"},{"x":71.8,"x2":75.9,"y":2.77,"s":"dotted"},{"x":71.8,"x2":75.9,"y":2.49,"s":"dashed"},{"x":71.8,"x2":75.9,"y":2.21,"s":"dashdot"},{"x":45.5,"x2":62.5,"y":3.38,"s":"solid"},{"x":71.4,"x2":86.7,"y":3.38,"s":"solid"},{"x":68.4,"x2":75.6,"y":0.91,"s":"solid"}],
 "rb": [{"x":71.8,"x2":76.1,"y":3.09,"s":"solid"},{"x":71.8,"x2":76.1,"y":2.77,"s":"dotted"},{"x":71.8,"x2":76.1,"y":2.49,"s":"dashed"},{"x":71.8,"x2":76.1,"y":2.21,"s":"dashdot"},{"x":45.6,"x2":62.9,"y":3.34,"s":"solid"},{"x":71.2,"x2":86.3,"y":3.34,"s":"solid"},{"x":68.2,"x2":75.8,"y":0.9,"s":"solid"}],
 "ta": [{"x":51.45,"y":3.01,"t":"ξL ~ 0"},{"x":51.45,"y":2.63,"t":"ξL = 0.2"},{"x":51.45,"y":2.31,"t":"ξL = 0.5"},{"x":51.45,"y":1.89,"t":"ξL = 1"},{"x":77.5,"y":3.09,"t":"ν = 1"},{"x":77.5,"y":2.77,"t":"ν = 20"},{"x":77.5,"y":2.49,"t":"ν = 50"},{"x":77.5,"y":2.21,"t":"ν = 100"}],
 "tb": [{"x":50.7,"y":3.03,"t":"ξL ~ 0"},{"x":50.7,"y":2.65,"t":"ξL = 0.2"},{"x":50.7,"y":2.29,"t":"ξL = 0.5"},{"x":50.7,"y":1.91,"t":"ξL = 1"},{"x":77.9,"y":3.09,"t":"ν = 1"},{"x":77.9,"y":2.77,"t":"ν = 20"},{"x":77.9,"y":2.49,"t":"ν = 50"},{"x":77.9,"y":2.21,"t":"ν = 100"}],
 "ha": [{"x":54.06,"y":3.57,"t":"wave approach"},{"x":79.0,"y":3.57,"t":"ray approach"}],
 "hb": [{"x":54.3,"y":3.55,"t":"wave approach"},{"x":78.9,"y":3.55,"t":"ray approach"}],
 "xmaj": [{"v":40},{"v":50},{"v":60},{"v":70},{"v":80},{"v":90}],
 "xmin": [{"v":45},{"v":55},{"v":65},{"v":75},{"v":85}],
 "ymaj": [{"v":0},{"v":1},{"v":2},{"v":3},{"v":4}],
 "ymin": [{"v":0.5},{"v":1.5},{"v":2.5},{"v":3.5}]
},
"hconcat": [
 {
  "width": 409, "height": 331,
  "title": {"text": "(a)", "orient": "bottom", "anchor": "middle", "frame": "group", "offset": 31},
  "resolve": {"axis": {"x": "independent", "y": "independent"}},
  "layer": [
   {"data": {"name": "pa"}, "mark": {"type": "point", "filled": false, "stroke": "#2a2a2a", "strokeWidth": 1.3, "size": 80, "opacity": 1},
    "encoding": {
     "x": {"field": "x", "type": "quantitative", "scale": {"domain": [40, 90], "nice": false, "zero": false},
       "axis": {"orient": "bottom", "values": [40,50,60,70,80,90], "ticks": false, "labelPadding": 2, "title": "incident angle θ [deg]", "titleFontSize": 20, "titlePadding": 2}},
     "y": {"field": "y", "type": "quantitative", "scale": {"domain": [0, 4], "nice": false, "zero": false},
       "axis": {"orient": "left", "values": [0,1,2,3,4], "ticks": false, "labelPadding": 11, "title": "Sensitivity S(θ) [rel. units]", "titleFontSize": 25, "titlePadding": 24}},
     "shape": {"field": "k", "type": "nominal", "scale": {"domain": ["c","s","d","t"], "range": ["circle","square","diamond","triangle-up"]}, "legend": null}
    }},
   {"data": {"name": "la"}, "mark": {"type": "line", "stroke": "#2a2a2a", "strokeWidth": 1.5},
    "encoding": {
     "x": {"field": "x", "type": "quantitative", "axis": null},
     "y": {"field": "y", "type": "quantitative", "axis": null},
     "detail": {"field": "g", "type": "nominal"},
     "strokeDash": {"field": "s", "type": "nominal", "scale": {"domain": ["solid","dotted","dashed","dashdot"], "range": [[1,0],[1.5,3.5],[7,4],[7,3,1.5,3]]}, "legend": null}
    }},
   {"data": {"values": [{"x": 67.5}]}, "mark": {"type": "rule", "stroke": "#444", "strokeWidth": 1.2, "strokeDash": [1.5, 2.5]},
    "encoding": {"x": {"field": "x", "type": "quantitative", "axis": null}}},
   {"data": {"name": "xmaj"}, "mark": {"type": "tick", "orient": "vertical", "size": 15, "thickness": 1.3, "yOffset": -7.5, "color": "#333", "opacity": 1},
    "encoding": {"x": {"field": "v", "type": "quantitative", "axis": null}, "y": {"datum": 0, "type": "quantitative", "axis": null}}},
   {"data": {"name": "xmaj"}, "mark": {"type": "tick", "orient": "vertical", "size": 15, "thickness": 1.3, "yOffset": 7.5, "color": "#333", "opacity": 1},
    "encoding": {"x": {"field": "v", "type": "quantitative", "axis": null}, "y": {"datum": 4, "type": "quantitative", "axis": null}}},
   {"data": {"name": "xmin"}, "mark": {"type": "tick", "orient": "vertical", "size": 7, "thickness": 1.3, "yOffset": -3.5, "color": "#333", "opacity": 1},
    "encoding": {"x": {"field": "v", "type": "quantitative", "axis": null}, "y": {"datum": 0, "type": "quantitative", "axis": null}}},
   {"data": {"name": "xmin"}, "mark": {"type": "tick", "orient": "vertical", "size": 7, "thickness": 1.3, "yOffset": 3.5, "color": "#333", "opacity": 1},
    "encoding": {"x": {"field": "v", "type": "quantitative", "axis": null}, "y": {"datum": 4, "type": "quantitative", "axis": null}}},
   {"data": {"name": "ymaj"}, "mark": {"type": "tick", "orient": "horizontal", "size": 15, "thickness": 1.3, "xOffset": 7.5, "color": "#333", "opacity": 1},
    "encoding": {"y": {"field": "v", "type": "quantitative", "axis": null}, "x": {"datum": 40, "type": "quantitative", "axis": null}}},
   {"data": {"name": "ymaj"}, "mark": {"type": "tick", "orient": "horizontal", "size": 15, "thickness": 1.3, "xOffset": -7.5, "color": "#333", "opacity": 1},
    "encoding": {"y": {"field": "v", "type": "quantitative", "axis": null}, "x": {"datum": 90, "type": "quantitative", "axis": null}}},
   {"data": {"name": "ymin"}, "mark": {"type": "tick", "orient": "horizontal", "size": 7, "thickness": 1.3, "xOffset": 3.5, "color": "#333", "opacity": 1},
    "encoding": {"y": {"field": "v", "type": "quantitative", "axis": null}, "x": {"datum": 40, "type": "quantitative", "axis": null}}},
   {"data": {"name": "ymin"}, "mark": {"type": "tick", "orient": "horizontal", "size": 7, "thickness": 1.3, "xOffset": -3.5, "color": "#333", "opacity": 1},
    "encoding": {"y": {"field": "v", "type": "quantitative", "axis": null}, "x": {"datum": 90, "type": "quantitative", "axis": null}}},
   {"data": {"name": "ma"}, "mark": {"type": "point", "filled": false, "stroke": "#2a2a2a", "strokeWidth": 1.2, "size": 45, "opacity": 1},
    "encoding": {"x": {"field": "x", "type": "quantitative", "axis": null}, "y": {"field": "y", "type": "quantitative", "axis": null},
     "shape": {"field": "k", "type": "nominal", "scale": {"domain": ["c","s","d","t"], "range": ["circle","square","diamond","triangle-up"]}, "legend": null}}},
   {"data": {"name": "ra"}, "mark": {"type": "rule", "stroke": "#2a2a2a", "strokeWidth": 1.5},
    "encoding": {"x": {"field": "x", "type": "quantitative", "axis": null}, "x2": {"field": "x2"}, "y": {"field": "y", "type": "quantitative", "axis": null},
     "strokeDash": {"field": "s", "type": "nominal", "scale": {"domain": ["solid","dotted","dashed","dashdot"], "range": [[1,0],[1.5,3.5],[7,4],[7,3,1.5,3]]}, "legend": null}}},
   {"data": {"values": [{"x": 68.3, "y": 0.91}]}, "mark": {"type": "point", "shape": "triangle-left", "filled": true, "fill": "#333", "size": 45, "opacity": 1},
    "encoding": {"x": {"field": "x", "type": "quantitative", "axis": null}, "y": {"field": "y", "type": "quantitative", "axis": null}}},
   {"data": {"name": "ha"}, "mark": {"type": "text", "fontSize": 22, "align": "center", "baseline": "middle", "color": "#2a2a2a"},
    "encoding": {"x": {"field": "x", "type": "quantitative", "axis": null}, "y": {"field": "y", "type": "quantitative", "axis": null}, "text": {"field": "t"}}},
   {"data": {"name": "ta"}, "mark": {"type": "text", "fontSize": 22, "align": "left", "baseline": "middle", "color": "#2a2a2a"},
    "encoding": {"x": {"field": "x", "type": "quantitative", "axis": null}, "y": {"field": "y", "type": "quantitative", "axis": null}, "text": {"field": "t"}}},
   {"data": {"values": [{"x": 75.9, "y": 0.9, "t": "θ"}]}, "mark": {"type": "text", "fontSize": 24, "align": "left", "baseline": "middle", "color": "#2a2a2a"},
    "encoding": {"x": {"field": "x", "type": "quantitative", "axis": null}, "y": {"field": "y", "type": "quantitative", "axis": null}, "text": {"field": "t"}}},
   {"data": {"values": [{"x": 77.2, "y": 0.71, "t": "opt"}]}, "mark": {"type": "text", "fontSize": 15, "align": "left", "baseline": "middle", "color": "#2a2a2a"},
    "encoding": {"x": {"field": "x", "type": "quantitative", "axis": null}, "y": {"field": "y", "type": "quantitative", "axis": null}, "text": {"field": "t"}}}
  ]
 },
 {
  "width": 409, "height": 331,
  "title": {"text": "(b)", "orient": "bottom", "anchor": "middle", "frame": "group", "offset": 31},
  "resolve": {"axis": {"x": "independent", "y": "independent"}},
  "layer": [
   {"data": {"name": "pb"}, "mark": {"type": "point", "filled": false, "stroke": "#2a2a2a", "strokeWidth": 1.3, "size": 68, "opacity": 1},
    "encoding": {
     "x": {"field": "x", "type": "quantitative", "scale": {"domain": [40, 90], "nice": false, "zero": false},
       "axis": {"orient": "bottom", "values": [40,50,60,70,80,90], "ticks": false, "labelPadding": 2, "title": "incident angle θ [deg]", "titleFontSize": 20, "titlePadding": 2}},
     "y": {"field": "y", "type": "quantitative", "scale": {"domain": [0, 4], "nice": false, "zero": false},
       "axis": {"orient": "left", "values": [0,1,2,3,4], "ticks": false, "labelPadding": 11, "title": "Sensitivity S(θ) [rel. units]", "titleFontSize": 25, "titlePadding": 24}},
     "shape": {"field": "k", "type": "nominal", "scale": {"domain": ["c","s","d","t"], "range": ["circle","square","diamond","triangle-up"]}, "legend": null}
    }},
   {"data": {"name": "lb"}, "mark": {"type": "line", "stroke": "#2a2a2a", "strokeWidth": 1.5},
    "encoding": {
     "x": {"field": "x", "type": "quantitative", "axis": null},
     "y": {"field": "y", "type": "quantitative", "axis": null},
     "detail": {"field": "g", "type": "nominal"},
     "strokeDash": {"field": "s", "type": "nominal", "scale": {"domain": ["solid","dotted","dashed","dashdot"], "range": [[1,0],[1.5,3.5],[7,4],[7,3,1.5,3]]}, "legend": null}
    }},
   {"data": {"values": [{"x": 67.45}]}, "mark": {"type": "rule", "stroke": "#444", "strokeWidth": 1.2, "strokeDash": [1.5, 2.5]},
    "encoding": {"x": {"field": "x", "type": "quantitative", "axis": null}}},
   {"data": {"name": "xmaj"}, "mark": {"type": "tick", "orient": "vertical", "size": 15, "thickness": 1.3, "yOffset": -7.5, "color": "#333", "opacity": 1},
    "encoding": {"x": {"field": "v", "type": "quantitative", "axis": null}, "y": {"datum": 0, "type": "quantitative", "axis": null}}},
   {"data": {"name": "xmaj"}, "mark": {"type": "tick", "orient": "vertical", "size": 15, "thickness": 1.3, "yOffset": 7.5, "color": "#333", "opacity": 1},
    "encoding": {"x": {"field": "v", "type": "quantitative", "axis": null}, "y": {"datum": 4, "type": "quantitative", "axis": null}}},
   {"data": {"name": "xmin"}, "mark": {"type": "tick", "orient": "vertical", "size": 7, "thickness": 1.3, "yOffset": -3.5, "color": "#333", "opacity": 1},
    "encoding": {"x": {"field": "v", "type": "quantitative", "axis": null}, "y": {"datum": 0, "type": "quantitative", "axis": null}}},
   {"data": {"name": "xmin"}, "mark": {"type": "tick", "orient": "vertical", "size": 7, "thickness": 1.3, "yOffset": 3.5, "color": "#333", "opacity": 1},
    "encoding": {"x": {"field": "v", "type": "quantitative", "axis": null}, "y": {"datum": 4, "type": "quantitative", "axis": null}}},
   {"data": {"name": "ymaj"}, "mark": {"type": "tick", "orient": "horizontal", "size": 15, "thickness": 1.3, "xOffset": 7.5, "color": "#333", "opacity": 1},
    "encoding": {"y": {"field": "v", "type": "quantitative", "axis": null}, "x": {"datum": 40, "type": "quantitative", "axis": null}}},
   {"data": {"name": "ymaj"}, "mark": {"type": "tick", "orient": "horizontal", "size": 15, "thickness": 1.3, "xOffset": -7.5, "color": "#333", "opacity": 1},
    "encoding": {"y": {"field": "v", "type": "quantitative", "axis": null}, "x": {"datum": 90, "type": "quantitative", "axis": null}}},
   {"data": {"name": "ymin"}, "mark": {"type": "tick", "orient": "horizontal", "size": 7, "thickness": 1.3, "xOffset": 3.5, "color": "#333", "opacity": 1},
    "encoding": {"y": {"field": "v", "type": "quantitative", "axis": null}, "x": {"datum": 40, "type": "quantitative", "axis": null}}},
   {"data": {"name": "ymin"}, "mark": {"type": "tick", "orient": "horizontal", "size": 7, "thickness": 1.3, "xOffset": -3.5, "color": "#333", "opacity": 1},
    "encoding": {"y": {"field": "v", "type": "quantitative", "axis": null}, "x": {"datum": 90, "type": "quantitative", "axis": null}}},
   {"data": {"name": "mb"}, "mark": {"type": "point", "filled": false, "stroke": "#2a2a2a", "strokeWidth": 1.2, "size": 40, "opacity": 1},
    "encoding": {"x": {"field": "x", "type": "quantitative", "axis": null}, "y": {"field": "y", "type": "quantitative", "axis": null},
     "shape": {"field": "k", "type": "nominal", "scale": {"domain": ["c","s","d","t"], "range": ["circle","square","diamond","triangle-up"]}, "legend": null}}},
   {"data": {"name": "rb"}, "mark": {"type": "rule", "stroke": "#2a2a2a", "strokeWidth": 1.5},
    "encoding": {"x": {"field": "x", "type": "quantitative", "axis": null}, "x2": {"field": "x2"}, "y": {"field": "y", "type": "quantitative", "axis": null},
     "strokeDash": {"field": "s", "type": "nominal", "scale": {"domain": ["solid","dotted","dashed","dashdot"], "range": [[1,0],[1.5,3.5],[7,4],[7,3,1.5,3]]}, "legend": null}}},
   {"data": {"values": [{"x": 68.2, "y": 0.9}]}, "mark": {"type": "point", "shape": "triangle-left", "filled": true, "fill": "#333", "size": 45, "opacity": 1},
    "encoding": {"x": {"field": "x", "type": "quantitative", "axis": null}, "y": {"field": "y", "type": "quantitative", "axis": null}}},
   {"data": {"name": "hb"}, "mark": {"type": "text", "fontSize": 22, "align": "center", "baseline": "middle", "color": "#2a2a2a"},
    "encoding": {"x": {"field": "x", "type": "quantitative", "axis": null}, "y": {"field": "y", "type": "quantitative", "axis": null}, "text": {"field": "t"}}},
   {"data": {"name": "tb"}, "mark": {"type": "text", "fontSize": 22, "align": "left", "baseline": "middle", "color": "#2a2a2a"},
    "encoding": {"x": {"field": "x", "type": "quantitative", "axis": null}, "y": {"field": "y", "type": "quantitative", "axis": null}, "text": {"field": "t"}}},
   {"data": {"values": [{"x": 76.6, "y": 0.88, "t": "θ"}]}, "mark": {"type": "text", "fontSize": 24, "align": "left", "baseline": "middle", "color": "#2a2a2a"},
    "encoding": {"x": {"field": "x", "type": "quantitative", "axis": null}, "y": {"field": "y", "type": "quantitative", "axis": null}, "text": {"field": "t"}}},
   {"data": {"values": [{"x": 77.2, "y": 0.68, "t": "opt"}]}, "mark": {"type": "text", "fontSize": 15, "align": "left", "baseline": "middle", "color": "#2a2a2a"},
    "encoding": {"x": {"field": "x", "type": "quantitative", "axis": null}, "y": {"field": "y", "type": "quantitative", "axis": null}, "text": {"field": "t"}}}
  ]
 }
]
}
